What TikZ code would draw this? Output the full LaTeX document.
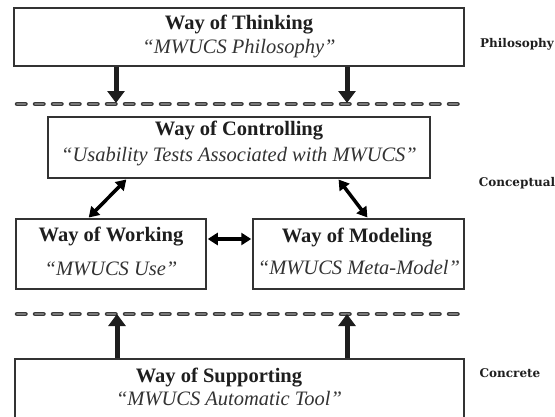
\documentclass[tikz,border=0pt]{standalone}
\usepackage{fontspec}
\setmainfont{Liberation Serif}
\newfontfamily\labelfont{DejaVu Serif}
\usetikzlibrary{arrows.meta}
\definecolor{ink}{HTML}{1E1E1E}
\definecolor{subink}{HTML}{333333}
\definecolor{edge}{HTML}{333333}
\definecolor{dashouter}{HTML}{383838}
\definecolor{dashinner}{HTML}{7A7A7A}
\tikzset{
  boxnode/.style={draw=edge, line width=1.5pt, rectangle, inner sep=0pt, fill=white},
  titletext/.style={font=\fontsize{20.5}{22}\selectfont\bfseries, text=ink, inner sep=0pt, anchor=center},
  subtext/.style={font=\fontsize{20.5}{22}\selectfont\itshape, text=subink, inner sep=0pt, anchor=center},
  layertext/.style={font=\labelfont\fontsize{12}{14}\selectfont\bfseries, text=ink, inner sep=0pt, anchor=center},
  layerouter/.style={draw=dashouter, line width=4.5pt, line cap=round, dash pattern=on 8.5pt off 9.5pt},
  layerinner/.style={draw=dashinner, line width=1.4pt, line cap=round, dash pattern=on 8.5pt off 9.5pt},
  bigarrow/.style={draw=ink, line width=5pt, -{Triangle[width=17pt,length=12pt]}},
  twoway/.style={draw=black, line width=3.5pt, {Triangle[width=12pt,length=10pt]}-{Triangle[width=12pt,length=10pt]}, shorten <=1pt, shorten >=1pt}
}
\begin{document}
\begin{tikzpicture}[x=1pt,y=-1pt]
\useasboundingbox (0,0) rectangle (555,416);
\clip (0,0) rectangle (555,416);

% boxes
\node[boxnode, minimum width=450pt, minimum height=58pt] (think) at (239,37) {};
\node[boxnode, minimum width=382pt, minimum height=61pt] (ctrl) at (239,147.5) {};
\node[boxnode, minimum width=190pt, minimum height=70pt] (work) at (111,254) {};
\node[boxnode, minimum width=211pt, minimum height=70pt] (model) at (358.5,254) {};
\node[boxnode, minimum width=449pt, minimum height=64pt] (supp) at (239.5,391) {};

% texts
\node[titletext] (thinkT) at (239,25) {Way of Thinking};
\node[subtext] (thinkS) at (239,49) {“MWUCS Philosophy”};
\node[titletext] (ctrlT) at (239,131) {Way of Controlling};
\node[subtext] (ctrlS) at (239,157) {“Usability Tests Associated with MWUCS”};
\node[titletext] (workT) at (111,237) {Way of Working};
\node[subtext] (workS) at (111,269) {“MWUCS Use”};
\node[titletext] (modelT) at (357,238) {Way of Modeling};
\node[subtext] (modelS) at (359,268) {“MWUCS Meta-Model”};
\node[titletext] (suppT) at (219,378) {Way of Supporting};
\node[subtext] (suppS) at (229,399) {“MWUCS Automatic Tool”};

% layer labels
\node[layertext] (philo) at (517,44) {Philosophy};
\node[layertext] (concep) at (517,183) {Conceptual};
\node[layertext] (concr) at (510,373) {Concrete};

% layer separators
\coordinate (sepAL) at (17,104);
\coordinate (sepAR) at (465,104);
\coordinate (sepBL) at (17,314);
\coordinate (sepBR) at (465,314);
\draw[layerouter] (sepAL) -- (sepAR);
\draw[layerinner] (sepAL) -- (sepAR);
\draw[layerouter] (sepBL) -- (sepBR);
\draw[layerinner] (sepBL) -- (sepBR);

% arrows from philosophy
\coordinate (tipA) at (116,103);
\coordinate (tipB) at (347,103);
\draw[bigarrow] (think.south -| tipA) -- (tipA);
\draw[bigarrow] (think.south -| tipB) -- (tipB);

% arrows from concrete
\coordinate (tipC) at (117,314);
\coordinate (tipD) at (347,314);
\draw[bigarrow] (supp.north -| tipC) -- (tipC);
\draw[bigarrow] (supp.north -| tipD) -- (tipD);

% conceptual links
\draw[twoway] (ctrl.south -| 127,0) -- (work.north -| 88,0);
\draw[twoway] (ctrl.south -| 338,0) -- (model.north -| 368,0);
\draw[twoway] (work.east |- 0,239) -- (model.west |- 0,239);
\end{tikzpicture}
\end{document}
